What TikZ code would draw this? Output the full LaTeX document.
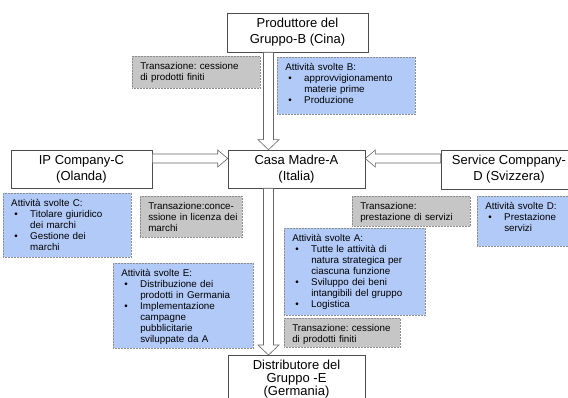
\documentclass[tikz,border=0pt]{standalone}
\usepackage{fontspec}
\setmainfont{Liberation Sans}
\usetikzlibrary{calc}
\definecolor{notablue}{RGB}{178,202,248}
\definecolor{notagray}{RGB}{198,198,198}
% bullet item with hanging indent
\newcommand{\voce}[1]{\par\hangindent=19pt\hangafter=1\noindent\makebox[19pt][l]{\hspace{3pt}\textbullet}#1\par}
% hollow block arrows: #1 start, #2 tip
\newcommand{\frecciagiu}[2]{%
  \draw[blocco] ([xshift=-5pt]#1) -- ([xshift=-5pt,yshift=10pt]#2) -- ([xshift=-10.5pt,yshift=10pt]#2)
    -- (#2) -- ([xshift=10.5pt,yshift=10pt]#2) -- ([xshift=5pt,yshift=10pt]#2) -- ([xshift=5pt]#1) -- cycle;}
\newcommand{\frecciadx}[2]{%
  \draw[blocco] ([yshift=4.5pt]#1) -- ([xshift=-10pt,yshift=4.5pt]#2) -- ([xshift=-10pt,yshift=8.5pt]#2)
    -- (#2) -- ([xshift=-10pt,yshift=-8.5pt]#2) -- ([xshift=-10pt,yshift=-4.5pt]#2) -- ([yshift=-4.5pt]#1) -- cycle;}
\newcommand{\frecciasx}[2]{%
  \draw[blocco] ([yshift=4.5pt]#1) -- ([xshift=10pt,yshift=4.5pt]#2) -- ([xshift=10pt,yshift=8.5pt]#2)
    -- (#2) -- ([xshift=10pt,yshift=-8.5pt]#2) -- ([xshift=10pt,yshift=-4.5pt]#2) -- ([yshift=-4.5pt]#1) -- cycle;}
\tikzset{
  ente/.style={
    draw=black!70, line width=0.6pt, fill=white,
    align=center, inner sep=2pt, font=\fontsize{13}{16}\selectfont
  },
  nota/.style={
    draw=black!45, densely dotted, line width=0.5pt, anchor=north west,
    align=left, inner xsep=8pt, inner ysep=4pt, text height=9.5pt,
    font=\fontsize{9.8}{11}\selectfont\frenchspacing
  },
  blu/.style={nota, fill=notablue},
  grigio/.style={nota, fill=notagray},
  blocco/.style={draw=black!60, line width=0.6pt, fill=white, line join=miter}
}

\begin{document}
\begin{tikzpicture}[x=1pt,y=-1pt]
    \path[use as bounding box, fill=white] (0,0) rectangle (568,398);

    % Group companies.
    \node[ente, minimum width=141pt, minimum height=39pt] (prodB) at (297.5,32.5)
      {Produttore del\\Gruppo-B (Cina)};
    \node[ente, minimum width=137pt, minimum height=38pt] (casaA) at (296.5,169)
      {Casa Madre-A\\(Italia)};
    \node[ente, minimum width=141pt, minimum height=38pt] (ipC) at (81.5,169)
      {IP Company-C\\(Olanda)};
    \node[ente, minimum width=136pt, minimum height=39pt] (servD) at (509,169.5)
      {Service Comppany-\\D (Svizzera)};
    \node[ente, anchor=north, minimum width=137pt, inner ysep=4.5pt,
      font=\fontsize{13}{13}\selectfont] (distE) at (296.5,355)
      {Distributore del\\Gruppo -E\\(Germania)};

    % Transactions (grey) and activities (blue).
    \node[grigio, text width=112pt, text depth=14.5pt] (transB) at (132,56)
      {Transazione: cessione\\di prodotti finiti};
    \node[blu, text width=122pt, text depth=39.5pt] (attB) at (277,57)
      {Attività svolte B:\voce{approvvigionamento\newline materie prime}\voce{Produzione}};
    \node[blu, text width=112pt, text depth=46.5pt] (attC) at (3,193)
      {Attività svolte C:\voce{Titolare giuridico\newline dei marchi}\voce{Gestione dei\newline marchi}};
    \node[grigio, text width=86pt, text depth=23.5pt] (transC) at (140,196)
      {Transazione:conce-\\\mbox{ssione in licenza dei}\\marchi};
    \node[grigio, text width=102pt, text depth=12.5pt] (transD) at (352,196)
      {Transazione:\\prestazione di servizi};
    \node[blu, text width=77pt, text depth=32.5pt] (attD) at (477,196)
      {Attività svolte D:\voce{Prestazione\newline servizi}};
    \node[blu, text width=125pt, text depth=69.5pt] (attA) at (284,228)
      {Attività svolte A:\voce{Tutte le attività di\newline natura strategica per\newline ciascuna funzione}%
       \voce{Sviluppo dei beni\newline intangibili del gruppo}\voce{Logistica}};
    \node[blu, text width=124pt, text depth=67.5pt] (attE) at (113,263)
      {Attività svolte E:\voce{Distribuzione dei\newline prodotti in Germania}%
       \voce{Implementazione\newline campagne\newline pubblicitarie\newline sviluppate da A}};
    \node[grigio, text width=100pt, text depth=11.5pt] (transA) at (284,318)
      {\mbox{Transazione: cessione}\\di prodotti finiti};

    % Arrow ends.
    \coordinate (bsud) at ([xshift=-29pt]prodB.south);
    \coordinate (anord) at ([xshift=-28pt]casaA.north);
    \coordinate (asud) at ([xshift=-28pt]casaA.south);
    \coordinate (enord) at ([xshift=-28pt]distE.north);
    \coordinate (cest) at ([yshift=10.5pt]ipC.east);
    \coordinate (aovest) at ([yshift=10.5pt]casaA.west);
    \coordinate (aest) at ([yshift=10.5pt]casaA.east);
    \coordinate (dovest) at ([yshift=11pt]servD.west);

    \frecciagiu{bsud}{anord}
    \frecciagiu{asud}{enord}
    \frecciadx{cest}{aovest}
    \frecciasx{dovest}{aest}
\end{tikzpicture}
\end{document}
